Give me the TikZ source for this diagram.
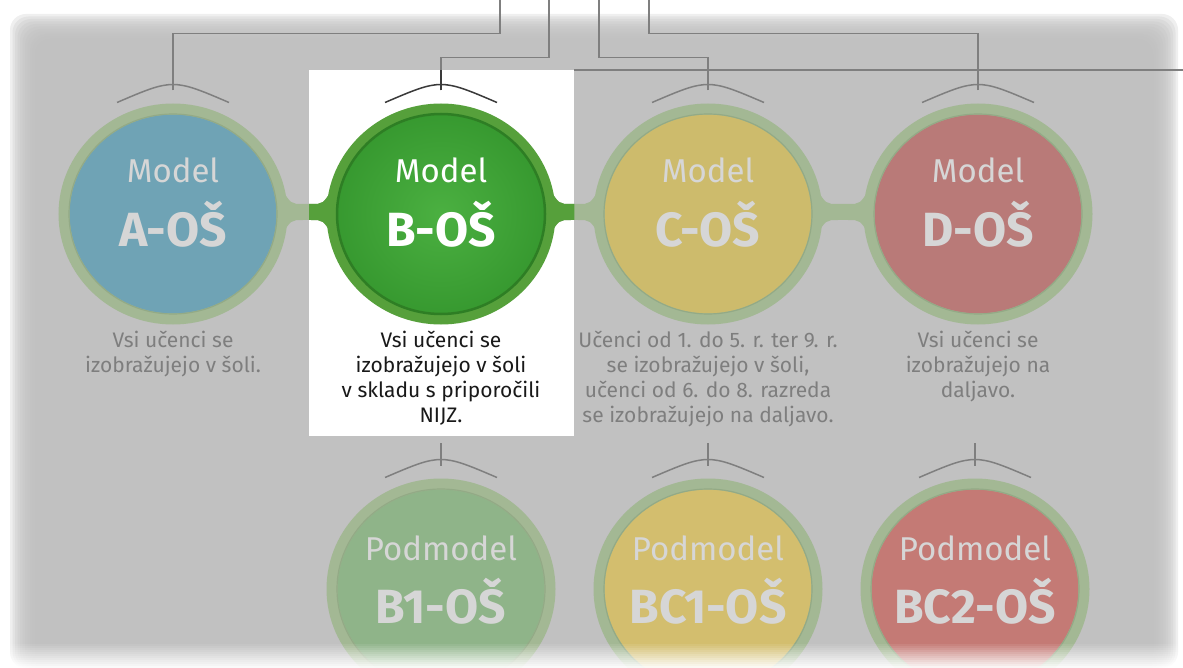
\documentclass[tikz,border=0pt]{standalone}
\usepackage{fontspec}
\setmainfont{Fira Sans}
\usetikzlibrary{shapes.geometric,calc}
\definecolor{bggrey}{HTML}{C1C1C1}
\definecolor{ringgrey}{HTML}{A3B894}
\definecolor{ringedge}{HTML}{93AA86}
\definecolor{bluefade}{HTML}{6FA3B5}
\definecolor{yellowfade}{HTML}{CDBB6C}
\definecolor{redfade}{HTML}{B97A78}
\definecolor{greenfade}{HTML}{8FB489}
\definecolor{yellowfadeb}{HTML}{D3BE6E}
\definecolor{redfadeb}{HTML}{C47A75}
\definecolor{brightin}{HTML}{4BB041}
\definecolor{brightout}{HTML}{36982F}
\definecolor{brightring}{HTML}{56A03B}
\definecolor{brightdark}{HTML}{2E7E24}
\definecolor{linegrey}{HTML}{7F7F7F}
\definecolor{linedark}{HTML}{3A3A3A}
\definecolor{fadetext}{HTML}{D6D6D6}
\definecolor{desctext}{HTML}{7E7E7E}

\tikzset{
  model/.style={ellipse, draw=ringgrey, line width=11pt, minimum width=218pt,
    minimum height=210pt, inner sep=0pt},
  mtitle/.style={anchor=base, text=fadetext, font=\fontsize{33}{36}\selectfont},
  mcode/.style={anchor=base, text=fadetext, font=\fontsize{48}{50}\selectfont\bfseries},
  mdesc/.style={anchor=base, inner sep=0pt, text=desctext,
    font=\fontsize{21}{25}\selectfont},
  link/.style={draw=linegrey, line width=1.5pt},
}

% bridge between two neighbouring circles (centre line at y=#4)
\newcommand\mbridge[4]{%
  \fill[#3] (#1+108,#4-24) .. controls (#1+118,#4-8) .. (#1+130,#4-8)
    -- (#2-130,#4-8) .. controls (#2-118,#4-8) .. (#2-108,#4-24)
    -- (#2-108,#4+24) .. controls (#2-118,#4+8) .. (#2-130,#4+8)
    -- (#1+130,#4+8) .. controls (#1+118,#4+8) .. (#1+108,#4+24) -- cycle;}
% centred lines, aligned on the first baseline
\newcommand\mlines[1]{\begin{tabular}[t]{@{}c@{}}#1\end{tabular}}

\begin{document}
\begin{tikzpicture}[x=1pt, y=-1pt]
\useasboundingbox (0,0) rectangle (1183,668);
\fill[white] (0,0) rectangle (1183,668);

% grey backdrop with soft edge
\foreach \i in {0,...,11}
  \fill[bggrey, opacity=0.25, rounded corners=16pt] (10+2.5*\i,14+2.5*\i) rectangle (1178-2.5*\i,668);
\fill[bggrey, rounded corners=6pt] (40,44) rectangle (1148,668);

% highlighted model
\node[fill=white, minimum width=265pt, minimum height=366pt, inner sep=0pt,
  anchor=north west] (hl) at (309,70) {};

% bridges
\mbridge{173}{441}{ringgrey}{212}
\mbridge{441}{708}{ringgrey}{212}
\mbridge{708}{978}{ringgrey}{212}
\begin{scope}
  \clip (hl.north west) rectangle (hl.south east);
  \mbridge{173}{441}{brightring}{212}
  \mbridge{441}{708}{brightring}{212}
\end{scope}

% models
\node[model, fill=bluefade] (A) at (173,214) {};
\node[model, draw=brightring, shade, inner color=brightin, outer color=brightout] (B) at (441,214) {};
\node[model, fill=yellowfade] (C) at (708,214) {};
\node[model, fill=redfade] (D) at (978,214) {};

% submodels
\node[model, fill=greenfade] (B1) at (441,589) {};
\node[model, fill=yellowfadeb] (BC1) at (708,589) {};
\node[model, fill=redfadeb] (BC2) at (975,589) {};

\foreach \n in {A,C,D,B1,BC1,BC2}
  \draw[ringedge, line width=1.2pt] (\n.center) ellipse [x radius=104, y radius=100];
\draw[brightdark, line width=2.5pt] (B.center) ellipse [x radius=104, y radius=100];

% arcs above circles
\foreach \n in {A,C,D,B1,BC1,BC2} {
  \draw[link] ($(\n.north)+(-56,-1)$) .. controls ($(\n.north)+(0,-25)$) .. ($(\n.north)+(56,-1)$);
  \coordinate (\n-top) at ($(\n.north)+(0,-13)$);
}
\coordinate (B-top) at ($(B.north)+(0,-13)$);

% tree lines
\coordinate (rootA) at (500,0);
\coordinate (rootB) at (549,0);
\coordinate (rootC) at (599,0);
\coordinate (rootD) at (649,0);
\draw[link] (A-top) -- ++(0,-57) -| (rootA);
\draw[link] (B-top) -- ++(0,-33) -| (rootB);
\draw[link] (C-top) -- ++(0,-33) -| (rootC);
\draw[link] (D-top) -- ++(0,-57) -| (rootD);
\draw[link] (hl.north east) -- ++(609,0);
\draw[link] (B1-top) -- ++(0,-23);
\draw[link] (BC1-top) -- ++(0,-23);
\draw[link] (BC2-top) -- ++(0,-23);

% highlighted arc and line
\draw[link, draw=linedark] ($(B.north)+(-56,-1)$) .. controls ($(B.north)+(0,-25)$) .. ($(B.north)+(56,-1)$);
\draw[link, draw=linedark] (B-top) -- (B-top |- hl.north);

% circle labels
\node[mtitle] at ($(A)+(0,-31)$) {Model};
\node[mcode] at ($(A)+(0,33)$) {A-OŠ};
\node[mtitle, text=white] at ($(B)+(0,-31)$) {Model};
\node[mcode, text=white] at ($(B)+(0,33)$) {B-OŠ};
\node[mtitle] at ($(C)+(0,-31)$) {Model};
\node[mcode] at ($(C)+(0,33)$) {C-OŠ};
\node[mtitle] at ($(D)+(0,-31)$) {Model};
\node[mcode] at ($(D)+(0,33)$) {D-OŠ};
\node[mtitle] at ($(B1)+(0,-29)$) {Podmodel};
\node[mcode] at ($(B1)+(0,34)$) {B1-OŠ};
\node[mtitle] at ($(BC1)+(0,-29)$) {Podmodel};
\node[mcode] at ($(BC1)+(0,34)$) {BC1-OŠ};
\node[mtitle] at ($(BC2)+(0,-29)$) {Podmodel};
\node[mcode] at ($(BC2)+(0,34)$) {BC2-OŠ};

% descriptions
\node[mdesc] (A-desc) at (173,347) {\mlines{Vsi učenci se\\izobražujejo v šoli.}};
\node[mdesc, text=black!90] (B-desc) at (441,347) {\mlines{Vsi učenci se\\izobražujejo v šoli\\v skladu s priporočili\\NIJZ.}};
\node[mdesc] (C-desc) at (708,347) {\mlines{Učenci od 1. do 5. r. ter 9. r.\\se izobražujejo v šoli,\\učenci od 6. do 8. razreda\\se izobražujejo na daljavo.}};
\node[mdesc] (D-desc) at (978,347) {\mlines{Vsi učenci se\\izobražujejo na\\daljavo.}};

% soft bottom edge
\foreach \i in {0,...,12} {
  \pgfmathsetmacro\op{\i/13}
  \fill[white, opacity=\op] (0,642+2*\i) rectangle (1183,644+2*\i);
}
\end{tikzpicture}
\end{document}
